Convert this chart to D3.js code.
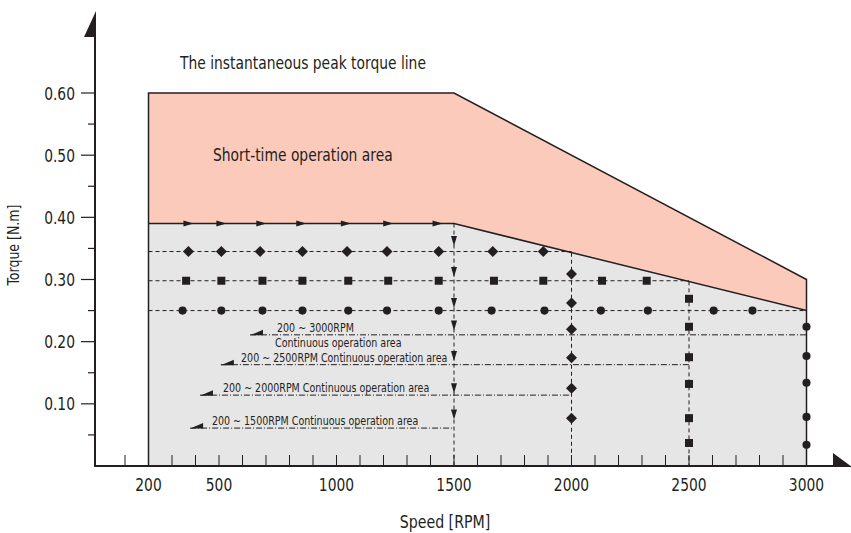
<!DOCTYPE html>
<html>
  <head>
    <meta charset="UTF-8" />
    <style>
      body {
        margin: 0;
        background: #fff;
      }
      svg text {
        font-family: "Liberation Sans Narrow", "DejaVu Sans Condensed", sans-serif;
        fill: #231f20;
      }
    </style>
  </head>
  <body>
    <svg></svg>
    <script src="https://d3js.org/d3.v7.min.js"></script>
    <script>
      // Data
      let peakRpm = [200, 1500, 3000];
      let peakTorque = [0.6, 0.6, 0.3];
      let contRpm = [200, 1500, 3000];
      let contTorque = [0.39, 0.39, 0.25];

      let xTickLabels = [200, 500, 1000, 1500, 2000, 2500, 3000];
      let xMinorTicks = d3.range(100, 3001, 100);
      let yTickLabels = [0.1, 0.2, 0.3, 0.4, 0.5, 0.6];
      let yMinorTicks = [0.05, 0.15, 0.25, 0.35, 0.45, 0.55];

      // arrows along the continuous torque limit (0.39)
      let topArrowRpm = [370, 510, 680, 850, 1040, 1220, 1430];

      // marker rows: rpm positions at a given torque, dashed to an end speed
      let diamondRowRpm = [370, 510, 675, 855, 1045, 1215, 1435, 1665, 1880];
      let diamondRowTorque = 0.345;
      let squareRowRpm = [360, 510, 685, 855, 1050, 1220, 1435, 1670, 1880, 2130, 2320];
      let squareRowTorque = 0.298;
      let circleRowRpm = [345, 510, 685, 855, 1050, 1215, 1435, 1660, 1885, 2125, 2325, 2605, 2770];
      let circleRowTorque = 0.25;

      // marker columns at fixed speed
      let arrowColTorque = [0.362, 0.312, 0.262, 0.226, 0.177, 0.125, 0.083];
      let diamondColTorque = [0.309, 0.262, 0.22, 0.174, 0.125, 0.077];
      let squareColTorque = [0.269, 0.224, 0.175, 0.132, 0.077, 0.037];
      let circleColTorque = [0.224, 0.177, 0.134, 0.079, 0.034];

      // continuous operation ranges (dash-dot lines)
      let rangeEnd = [3000, 2500, 2000, 1500];
      let rangeTorque = [0.211, 0.163, 0.114, 0.061];
      let rangeArrowRpm = [632, 508, 419, 377];
      let rangeLabels = [
        "200 ~ 3000RPM",
        "200 ~ 2500RPM Continuous operation area",
        "200 ~ 2000RPM Continuous operation area",
        "200 ~ 1500RPM Continuous operation area",
      ];
      let rangeLabelRpm = [747, 594, 517, 470];

      let width = 851,
        height = 533;
      let ink = "#231f20";
      let svg = d3
        .select("svg")
        .attr("width", width)
        .attr("height", height)
        .attr("viewBox", "0 0 " + width + " " + height);

      let x = d3.scaleLinear().domain([200, 3000]).range([148.5, 806.5]);
      let y = d3.scaleLinear().domain([0, 0.6]).range([466, 93]);

      // squeeze text horizontally, the original uses a condensed face
      function condense(sel, k) {
        sel.each(function () {
          let w = this.getComputedTextLength();
          d3.select(this)
            .attr("textLength", w * k)
            .attr("lengthAdjust", "spacingAndGlyphs");
        });
      }

      // gray continuous area
      let contPts = contRpm.map((r, i) => [x(r), y(contTorque[i])]);
      svg
        .append("path")
        .attr("fill", "#e6e6e6")
        .attr(
          "d",
          d3.line()(
            [[x(200), y(0)]].concat(contPts).concat([[x(3000), y(0)]])
          ) + "Z"
        );

      // pink short-time area
      let peakPts = peakRpm.map((r, i) => [x(r), y(peakTorque[i])]);
      svg
        .append("path")
        .attr("fill", "#fbcabb")
        .attr(
          "d",
          d3.line()(peakPts.concat(contPts.slice().reverse())) + "Z"
        );

      let dashed = "4,3";
      let dashDot = "6,2,1,2";

      // dashed rows
      let rows = [
        { rpm: diamondRowRpm, t: diamondRowTorque, end: 2000, shape: "diamond" },
        { rpm: squareRowRpm, t: squareRowTorque, end: 2500, shape: "square" },
        { rpm: circleRowRpm, t: circleRowTorque, end: 3000, shape: "circle" },
      ];
      svg
        .append("g")
        .selectAll("line")
        .data(rows)
        .join("line")
        .attr("x1", x(200))
        .attr("x2", (d) => x(d.end))
        .attr("y1", (d) => y(d.t))
        .attr("y2", (d) => y(d.t))
        .attr("stroke", ink)
        .attr("stroke-width", 1)
        .attr("stroke-dasharray", dashed);

      // dashed columns
      let cols = [
        { rpm: 1500, top: 0.39, t: arrowColTorque, shape: "down" },
        { rpm: 2000, top: 0.343, t: diamondColTorque, shape: "diamond" },
        { rpm: 2500, top: 0.297, t: squareColTorque, shape: "square" },
      ];
      svg
        .append("g")
        .selectAll("line")
        .data(cols)
        .join("line")
        .attr("x1", (d) => x(d.rpm))
        .attr("x2", (d) => x(d.rpm))
        .attr("y1", (d) => y(d.top))
        .attr("y2", y(0))
        .attr("stroke", ink)
        .attr("stroke-width", 1)
        .attr("stroke-dasharray", dashed);

      // dash-dot continuous ranges
      svg
        .append("g")
        .selectAll("line")
        .data(rangeEnd)
        .join("line")
        .attr("x1", (d, i) => x(rangeArrowRpm[i]))
        .attr("x2", (d) => x(d))
        .attr("y1", (d, i) => y(rangeTorque[i]))
        .attr("y2", (d, i) => y(rangeTorque[i]))
        .attr("stroke", ink)
        .attr("stroke-width", 1)
        .attr("stroke-dasharray", dashDot);

      // half arrow heads at the start of each range
      svg
        .append("g")
        .selectAll("path")
        .data(rangeArrowRpm)
        .join("path")
        .attr("fill", ink)
        .attr("d", (d, i) => {
          let px = x(d),
            py = y(rangeTorque[i]);
          return (
            "M" + px + "," + (py + 0.5) + "L" + (px + 13) + "," + (py + 0.5) +
            "L" + (px + 13) + "," + (py - 5) + "Z"
          );
        });

      // range labels
      svg
        .append("g")
        .selectAll("text")
        .data(rangeLabels)
        .join("text")
        .attr("x", (d, i) => x(rangeLabelRpm[i]))
        .attr("y", (d, i) => y(rangeTorque[i]) - 3)
        .style("font-size", "12px")
        .text((d) => d)
        .call(condense, 0.88);
      svg
        .append("text")
        .attr("x", x(rangeLabelRpm[0]) - 2)
        .attr("y", y(rangeTorque[0]) + 12)
        .style("font-size", "12px")
        .text("Continuous operation area")
        .call(condense, 0.88);

      // outline of the operating envelope
      svg
        .append("path")
        .attr("fill", "none")
        .attr("stroke", ink)
        .attr("stroke-width", 1.5)
        .attr(
          "d",
          d3.line()(
            [[x(200), y(0)]].concat(peakPts).concat([[x(3000), y(0)]])
          )
        );
      svg
        .append("path")
        .attr("fill", "none")
        .attr("stroke", ink)
        .attr("stroke-width", 1.5)
        .attr("d", d3.line()(contPts));

      // marker shapes
      function shapePath(s) {
        if (s == "diamond") return "M0,-5.5L5.5,0L0,5.5L-5.5,0Z";
        if (s == "square") return "M-4,-4H4V4H-4Z";
        if (s == "circle") return d3.symbol(d3.symbolCircle, 52)();
        if (s == "right") return "M-5,-3L5,0L-5,3Z";
        if (s == "down") return "M-3,-5L3,-5L0,5Z";
      }

      let marks = [];
      rows.forEach((r) =>
        r.rpm.forEach((v) => marks.push({ rpm: v, t: r.t, shape: r.shape }))
      );
      cols.forEach((c) =>
        c.t.forEach((v) => marks.push({ rpm: c.rpm, t: v, shape: c.shape }))
      );
      circleColTorque.forEach((v) =>
        marks.push({ rpm: 3000, t: v, shape: "circle" })
      );
      topArrowRpm.forEach((v) =>
        marks.push({ rpm: v, t: contTorque[0], shape: "right" })
      );

      svg
        .append("g")
        .selectAll("path")
        .data(marks)
        .join("path")
        .attr("fill", ink)
        .attr("transform", (d) => "translate(" + x(d.rpm) + "," + y(d.t) + ")")
        .attr("d", (d) => shapePath(d.shape));

      // axes
      let axis = svg.append("g").attr("stroke", ink);
      axis
        .append("line")
        .attr("x1", 95)
        .attr("x2", 95)
        .attr("y1", 30)
        .attr("y2", y(0))
        .attr("stroke-width", 2);
      axis
        .append("line")
        .attr("x1", 94)
        .attr("x2", 840)
        .attr("y1", y(0))
        .attr("y2", y(0))
        .attr("stroke-width", 2);
      svg
        .append("path")
        .attr("fill", ink)
        .attr("d", "M84,37L96,37L96,11Z");
      svg
        .append("path")
        .attr("fill", ink)
        .attr("d", "M833,453L833,467L852,467Z");

      axis
        .selectAll(".xminor")
        .data(xMinorTicks)
        .join("line")
        .attr("x1", (d) => x(d))
        .attr("x2", (d) => x(d))
        .attr("y1", y(0) - 11)
        .attr("y2", y(0))
        .attr("stroke-width", 1);
      axis
        .selectAll(".ymajor")
        .data(yTickLabels)
        .join("line")
        .attr("x1", 81)
        .attr("x2", 95)
        .attr("y1", (d) => y(d))
        .attr("y2", (d) => y(d))
        .attr("stroke-width", 1.2);
      axis
        .selectAll(".yminor")
        .data(yMinorTicks)
        .join("line")
        .attr("class", "yminor")
        .attr("x1", 88)
        .attr("x2", 95)
        .attr("y1", (d) => y(d))
        .attr("y2", (d) => y(d))
        .attr("stroke-width", 1.2);

      svg
        .append("g")
        .selectAll("text")
        .data(xTickLabels)
        .join("text")
        .attr("x", (d) => x(d))
        .attr("y", 491)
        .attr("text-anchor", "middle")
        .style("font-size", "17.5px")
        .text((d) => d)
        .call(condense, 0.88);
      svg
        .append("g")
        .selectAll("text")
        .data(yTickLabels)
        .join("text")
        .attr("x", 75)
        .attr("y", (d) => y(d) + 6.5)
        .attr("text-anchor", "end")
        .style("font-size", "17.5px")
        .text((d) => d.toFixed(2))
        .call(condense, 0.88);

      svg
        .append("text")
        .attr("x", 445)
        .attr("y", 528)
        .attr("text-anchor", "middle")
        .style("font-size", "17.5px")
        .text("Speed [RPM]")
        .call(condense, 0.9);
      svg
        .append("text")
        .attr("transform", "translate(19,245) rotate(-90)")
        .attr("text-anchor", "middle")
        .style("font-size", "15px")
        .text("Torque [N.m]")
        .call(condense, 0.93);

      svg
        .append("text")
        .attr("x", 180)
        .attr("y", 69)
        .style("font-size", "17.5px")
        .text("The instantaneous peak torque line")
        .call(condense, 0.88);
      svg
        .append("text")
        .attr("x", 213)
        .attr("y", 161)
        .style("font-size", "17.5px")
        .text("Short-time operation area")
        .call(condense, 0.88);
    </script>
  </body>
</html>
